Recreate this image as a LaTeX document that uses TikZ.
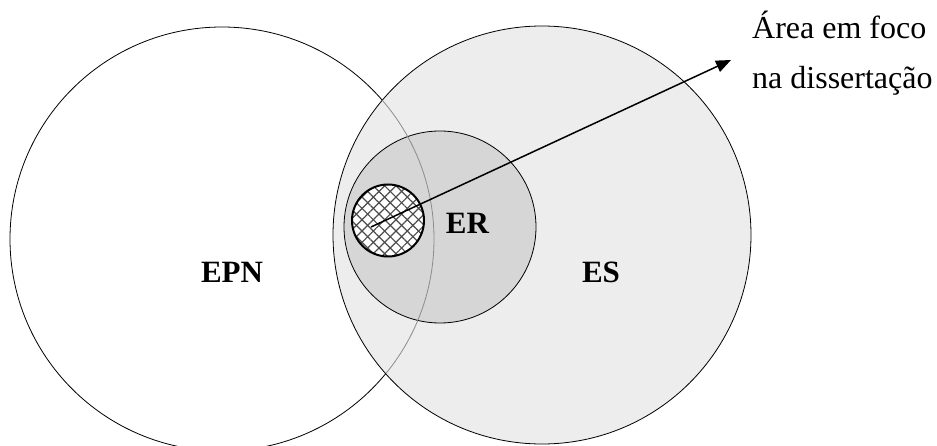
\documentclass[tikz,border=0pt]{standalone}
\usepackage{fontspec}
\setmainfont{Liberation Serif}
\usetikzlibrary{arrows.meta,patterns.meta}
\definecolor{esgray}{gray}{0.93}
\definecolor{ergray}{gray}{0.84}
\definecolor{linegray}{gray}{0.55}
\definecolor{hatchgray}{gray}{0.3}
\begin{document}
\begin{tikzpicture}[x=1pt,y=-1pt,
  venn/.style={circle, inner sep=0pt, line width=0.8pt},
  lbl/.style={font=\fontsize{31}{36}\selectfont\bfseries, inner sep=0pt},
  txt/.style={font=\fontsize{32}{38}\selectfont, inner sep=0pt, anchor=base west}]
\useasboundingbox (0,0) rectangle (937,446);
\node[venn, draw=black, minimum size=424pt] (epn) at (222,239) {};
\node[venn, draw=black, fill=esgray, minimum size=418pt] (es) at (542,235) {};
\node[venn, draw=black, fill=ergray, minimum size=192pt] (er) at (440,227) {};
\begin{scope}
  \clip (es.center) circle[radius=208.6pt];
  \draw[linegray, line width=0.8pt] (epn.center) circle[radius=212pt];
\end{scope}
\node[venn, fill=white, minimum size=72pt] (focusbg) at (388,220.5) {};
\node[venn, pattern={Lines[angle=45,distance=8pt,line width=1.2pt]}, pattern color=hatchgray, minimum size=72pt] (focushatch) at (388,220.5) {};
\node[venn, pattern={Lines[angle=-45,distance=8pt,line width=1.2pt]}, pattern color=hatchgray, draw=black, line width=2pt, minimum size=72pt] (focus) at (388,220.5) {};
\node[lbl] (lepn) at (232,272) {EPN};
\node[lbl] (ler) at (467.5,223) {ER};
\node[lbl] (les) at (601,272) {ES};
\node[txt] (t1) at (752,39) {Área em foco};
\node[txt] (t2) at (752,89) {na dissertação};
\coordinate (start) at (371,227);
\coordinate (tip) at (731,60);
\draw[line width=1.5pt, -{Triangle[length=15pt,width=12pt]}] (start) -- (tip);
\end{tikzpicture}
\end{document}
